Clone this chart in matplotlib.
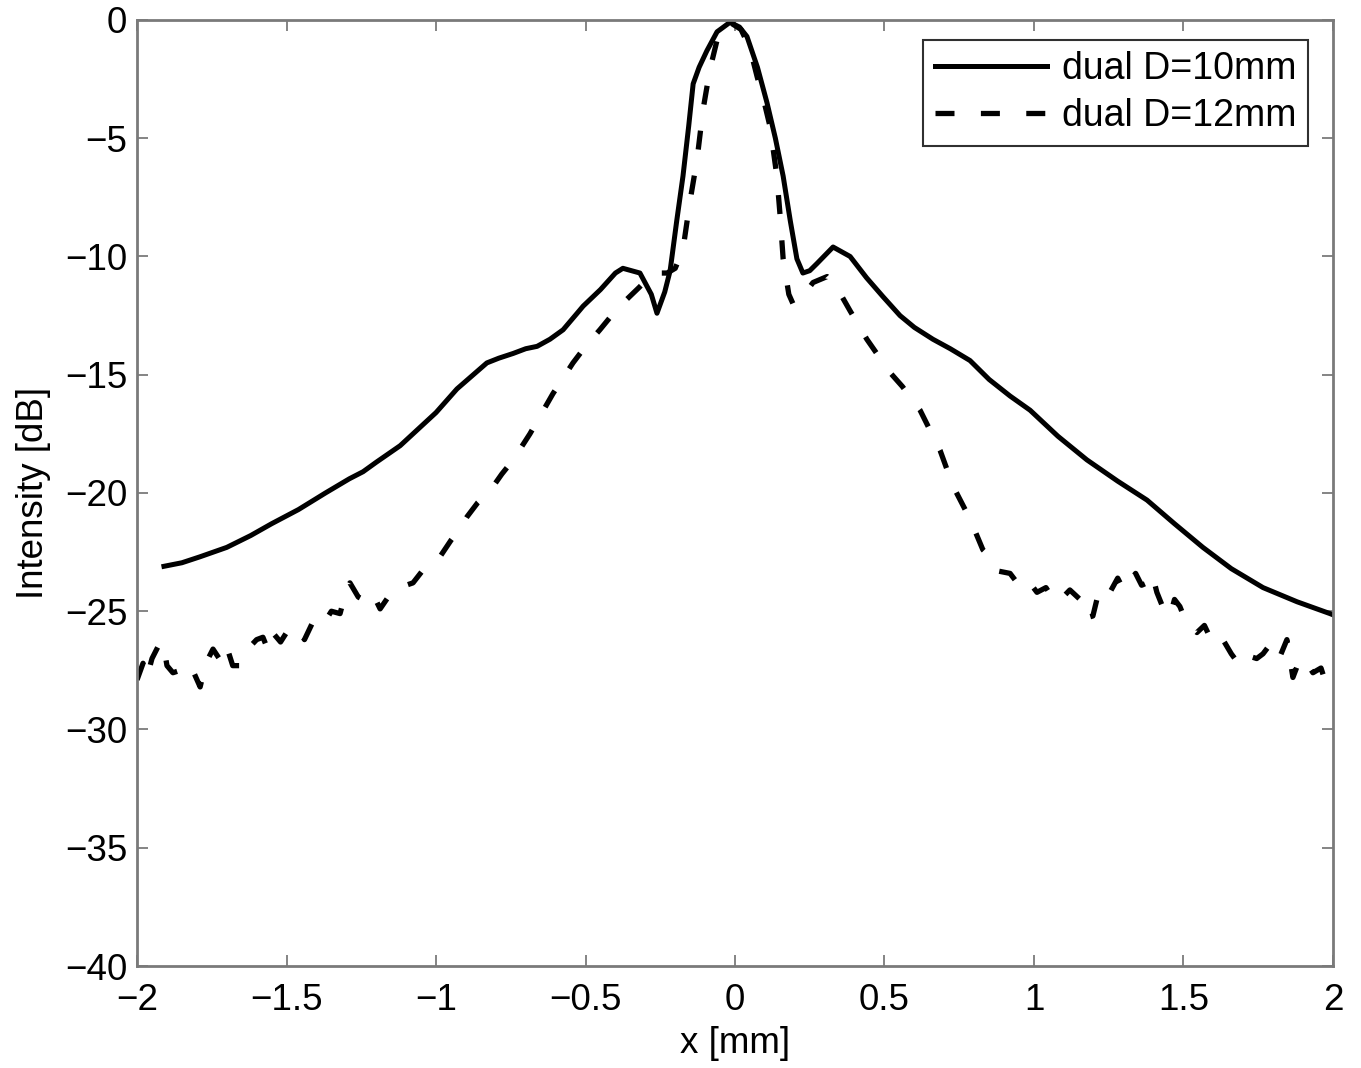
import matplotlib
matplotlib.use("Agg")
import matplotlib.pyplot as plt

plt.rcParams['font.family'] = ['Liberation Sans', 'DejaVu Sans']

# dual D=10mm (solid)
x_d10 = [-1.91, -1.85, -1.79, -1.70, -1.62, -1.55, -1.46, -1.37, -1.29, -1.244, -1.20, -1.12,
         -1.06, -1.00, -0.93, -0.83, -0.79, -0.742, -0.70, -0.662, -0.619, -0.575, -0.528, -0.508,
         -0.45, -0.40, -0.375, -0.318, -0.28, -0.261, -0.235, -0.217, -0.195, -0.174, -0.155,
         -0.140, -0.12, -0.094, -0.06, -0.017, 0.015, 0.040, 0.075, 0.107, 0.135, 0.161, 0.185,
         0.207, 0.227, 0.25, 0.274, 0.328, 0.385, 0.44, 0.495, 0.552, 0.60, 0.662, 0.72, 0.786,
         0.85, 0.92, 0.987, 1.08, 1.177, 1.28, 1.378, 1.47, 1.565, 1.66, 1.766, 1.88, 1.99, 2.00]
y_d10 = [-23.1, -22.95, -22.7, -22.3, -21.8, -21.3, -20.7, -20.0, -19.4, -19.1, -18.7, -18.0,
         -17.3, -16.6, -15.6, -14.5, -14.3, -14.1, -13.9, -13.8, -13.5, -13.1, -12.4, -12.1,
         -11.4, -10.7, -10.5, -10.7, -11.6, -12.4, -11.5, -10.6, -8.5, -6.6, -4.5,
         -2.7, -2.0, -1.3, -0.5, -0.1, -0.3, -0.7, -2.0, -3.5, -5.0, -6.6, -8.5,
         -10.1, -10.7, -10.6, -10.3, -9.6, -10.0, -10.9, -11.7, -12.5, -13.0, -13.5, -13.9, -14.4,
         -15.2, -15.9, -16.5, -17.6, -18.6, -19.5, -20.3, -21.3, -22.3, -23.2, -24.0, -24.6, -25.1, -25.15]

# dual D=12mm (dashed)
x_d12 = [-2.00, -1.98, -1.967, -1.95, -1.93, -1.913, -1.90, -1.88, -1.856, -1.83, -1.81, -1.789,
         -1.77, -1.746, -1.72, -1.70, -1.68, -1.656, -1.63, -1.60, -1.579, -1.56, -1.54, -1.52,
         -1.49, -1.465, -1.44, -1.41, -1.38, -1.35, -1.321, -1.30, -1.288, -1.26, -1.23, -1.21,
         -1.187, -1.16, -1.13, -1.10, -1.077, -1.04, -1.01, -0.987, -0.95, -0.92, -0.896, -0.86,
         -0.819, -0.78, -0.742, -0.686, -0.609, -0.542, -0.50, -0.452, -0.40, -0.361, -0.32,
         -0.274, -0.227, -0.20, -0.174, -0.151, -0.127, -0.107, -0.084, -0.060, -0.04, -0.017,
         0.02, 0.05, 0.074, 0.10, 0.117, 0.140, 0.151, 0.161, 0.18, 0.194, 0.22, 0.261, 0.308,
         0.34, 0.385, 0.441, 0.518, 0.56, 0.619, 0.686, 0.729, 0.786, 0.829, 0.86, 0.88, 0.920,
         0.95, 0.98, 1.010, 1.04, 1.07, 1.097, 1.12, 1.154, 1.17, 1.197, 1.22, 1.254, 1.28, 1.30,
         1.321, 1.34, 1.36, 1.378, 1.395, 1.411, 1.43, 1.455, 1.47, 1.488, 1.51, 1.545, 1.57,
         1.60, 1.632, 1.66, 1.689, 1.72, 1.745, 1.766, 1.79, 1.82, 1.846, 1.866, 1.89, 1.913,
         1.933, 1.96, 1.975, 1.990, 2.00]
y_d12 = [-27.9, -27.2, -27.8, -27.0, -26.5, -26.3, -27.3, -27.6, -27.5, -27.9, -27.6, -28.2,
         -27.2, -26.6, -27.1, -26.5, -27.3, -27.3, -26.6, -26.2, -26.1, -26.7, -26.0, -26.3,
         -25.7, -25.7, -26.2, -25.4, -25.6, -25.0, -25.1, -24.1, -23.8, -24.4, -24.6, -24.3,
         -24.9, -24.4, -24.0, -23.9, -23.8, -23.2, -23.0, -22.7, -22.0, -21.5, -21.0, -20.4,
         -19.9, -19.2, -18.6, -17.5, -15.8, -14.5, -13.8, -13.1, -12.3, -11.8, -11.3,
         -10.7, -10.7, -10.5, -9.7, -7.7, -5.9, -3.8, -2.1, -0.85, -0.3, -0.1,
         -0.4, -1.2, -2.4, -3.6, -4.5, -6.6, -8.3, -10.1, -11.6, -12.0, -11.8, -11.1, -10.85,
         -11.3, -12.3, -13.5, -14.9, -15.5, -16.5, -18.2, -19.7, -21.1, -22.4, -22.8, -23.3, -23.4,
         -23.9, -23.7, -24.2, -24.0, -24.6, -24.4, -24.1, -24.5, -25.3, -25.2, -24.0, -24.2, -23.6, -24.1,
         -23.7, -23.4, -23.9, -23.8, -23.4, -24.2, -24.8, -25.2, -24.5, -24.8, -25.5, -25.9, -25.6,
         -26.4, -26.2, -26.8, -27.3, -26.9, -27.0, -26.8, -26.4, -27.0, -26.2, -27.8, -27.0, -27.2,
         -27.6, -27.4, -28.0, -28.3, -28.0]

x_ticks = [-2, -1.5, -1, -0.5, 0, 0.5, 1, 1.5, 2]
x_ticklabels = ['\u22122', '\u22121.5', '\u22121', '\u22120.5', '0', '0.5', '1', '1.5', '2']
y_ticks = [-40, -35, -30, -25, -20, -15, -10, -5, 0]
y_ticklabels = ['\u221240', '\u221235', '\u221230', '\u221225', '\u221220', '\u221215', '\u221210', '\u22125', '0']

fig = plt.figure(figsize=(13.61, 10.68), dpi=100)
ax = fig.add_axes([0.1007, 0.0955, 0.8787, 0.8858])

ax.plot(x_d10, y_d10, color='black', lw=3.6, solid_joinstyle='round', label='dual D=10mm')
ax.plot(x_d12, y_d12, color='black', lw=3.8, linestyle=(0, (3.6, 5.0)), label='dual D=12mm')

ax.set_xlim(-2, 2)
ax.set_ylim(-40, 0)
ax.set_xticks(x_ticks)
ax.set_xticklabels(x_ticklabels)
ax.set_yticks(y_ticks)
ax.set_yticklabels(y_ticklabels)
ax.tick_params(direction='in', length=8, width=1.2, color='#707070', labelsize=26.5,
               top=True, right=True)
ax.tick_params(axis='x', pad=12)
ax.tick_params(axis='y', pad=7)
for s in ax.spines.values():
    s.set_color('#7a7a7a')
    s.set_linewidth(2)

ax.set_xlabel('x [mm]', fontsize=26.5, labelpad=6)
ax.set_ylabel('Intensity [dB]', fontsize=26.5, labelpad=10)

leg = ax.legend(loc='upper right', bbox_to_anchor=(0.979, 0.979), borderaxespad=0,
                fontsize=27, handlelength=3.0, handletextpad=0.4, labelspacing=0.3,
                borderpad=0.3, fancybox=False, framealpha=1)
leg.get_frame().set_edgecolor('#303030')
leg.get_frame().set_linewidth(1.5)

fig.savefig('out.png', dpi=100)
